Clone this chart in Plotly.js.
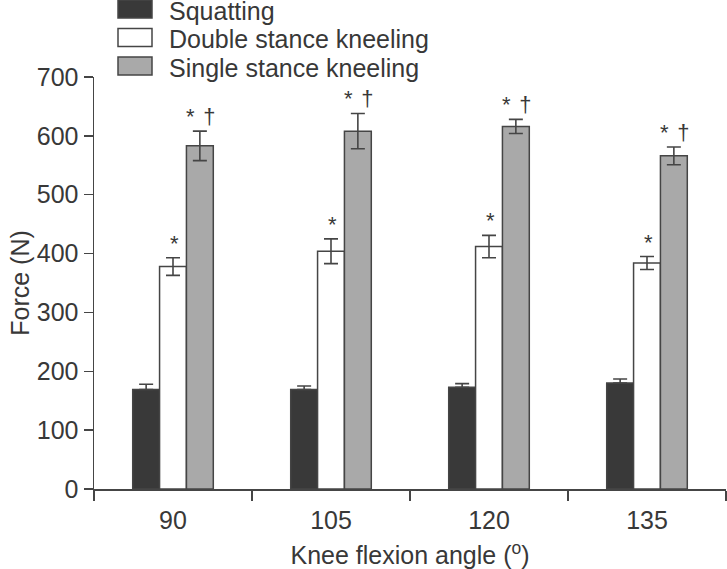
<!DOCTYPE html>
<html>
<head>
<meta charset="utf-8">
<script src="https://cdn.plot.ly/plotly-3.0.1.min.js"></script>
<style>
  html, body { margin: 0; padding: 0; background: #fff; }
  #chart { width: 727px; height: 569px; }
</style>
</head>
<body>
<div id="chart"></div>
<script>
var angles = ['90', '105', '120', '135'];
var seriesNames = ['Squatting', 'Double stance kneeling', 'Single stance kneeling'];
var squatting = [169, 169, 173, 180];
var squattingErr = [9, 6, 6, 7];
var doubleKneel = [378, 404, 412, 384];
var doubleErr = [15, 21, 19, 11];
var singleKneel = [583, 608, 616, 566];
var singleErr = [25, 30, 12, 15];
var marks = [['', '', '', ''], ['*', '*', '*', '*'], ['*\u2009\u2009\u2020', '*\u2009\u2009\u2020', '*\u2009\u2009\u2020', '*\u2009\u2009\u2020']];

var fills = ['#393939', '#ffffff', '#a9a9a9'];
var edge = '#454545';
var textCol = '#383838';
var font = 'Liberation Sans, Arial, sans-serif';
var fs = 25;

var values = [squatting, doubleKneel, singleKneel];
var errs = [squattingErr, doubleErr, singleErr];

var traces = values.map(function (v, i) {
  return {
    type: 'bar',
    name: seriesNames[i],
    x: angles,
    y: v,
    marker: { color: fills[i], line: { color: edge, width: 1.5 } },
    error_y: {
      type: 'data',
      array: errs[i],
      arrayminus: i === 0 ? [0, 0, 0, 0] : errs[i],
      symmetric: false,
      color: edge,
      thickness: 1.6,
      width: 7
    },
    showlegend: false
  };
});

// plot area in pixels
var L = 94, R = 1, T = 77, B = 80, W = 727, H = 569;
var plotW = W - L - R, plotH = H - T - B;
var bargap = 0.49;
var barW = plotW / angles.length * (1 - bargap) / 3;
function px2paperX(px) { return (px - L) / plotW; }
function px2paperY(py) { return (H - B - py) / plotH; }

var annotations = [];
marks.forEach(function (row, s) {
  row.forEach(function (txt, k) {
    if (!txt) return;
    annotations.push({
      x: k, y: values[s][k] + errs[s][k],
      xref: 'x', yref: 'y',
      text: txt, showarrow: false,
      xshift: (s - 1) * barW + 1, yshift: 0,
      yanchor: 'bottom',
      font: { family: font, size: 22, color: textCol }
    });
  });
});

// legend drawn as swatches + labels
var shapes = [];
var rowY = [9, 37.5, 66];
seriesNames.forEach(function (n, i) {
  shapes.push({
    type: 'rect', xref: 'paper', yref: 'paper',
    x0: px2paperX(118), x1: px2paperX(152),
    y0: px2paperY(rowY[i] - 9), y1: px2paperY(rowY[i] + 9),
    fillcolor: fills[i], line: { color: edge, width: 1.5 }
  });
  annotations.push({
    xref: 'paper', yref: 'paper',
    x: px2paperX(167), y: px2paperY(rowY[i] + 2),
    xanchor: 'left', yanchor: 'middle',
    text: n, showarrow: false,
    font: { family: font, size: fs, color: textCol }
  });
});

var layout = {
  width: W, height: H,
  margin: { l: L, r: R, t: T, b: B, pad: 0 },
  paper_bgcolor: '#ffffff',
  plot_bgcolor: '#ffffff',
  barmode: 'group',
  bargap: bargap,
  bargroupgap: 0,
  font: { family: font, size: fs, color: textCol },
  xaxis: {
    type: 'category',
    range: [-0.5, angles.length - 0.5],
    showline: true, linecolor: edge, linewidth: 1.5,
    ticks: 'outside', tickson: 'boundaries', ticklen: 10, tickcolor: edge, tickwidth: 1.5,
    ticklabelstandoff: 8,
    tickfont: { family: font, size: fs, color: textCol },
    showgrid: false, zeroline: false,
    title: { text: 'Knee flexion angle (<sup>o</sup>)', font: { family: font, size: fs, color: textCol }, standoff: 14 }
  },
  yaxis: {
    range: [0, 700],
    dtick: 100,
    showline: true, linecolor: edge, linewidth: 1.5,
    ticks: 'outside', ticklen: 9, tickcolor: edge, tickwidth: 1.5,
    tickfont: { family: font, size: fs, color: textCol },
    showgrid: false, zeroline: false,
    title: { text: 'Force (N)', font: { family: font, size: fs, color: textCol }, standoff: 0 }
  },
  annotations: annotations,
  shapes: shapes,
  showlegend: false
};

Plotly.newPlot('chart', traces, layout, { displayModeBar: false, staticPlot: true });
</script>
</body>
</html>
